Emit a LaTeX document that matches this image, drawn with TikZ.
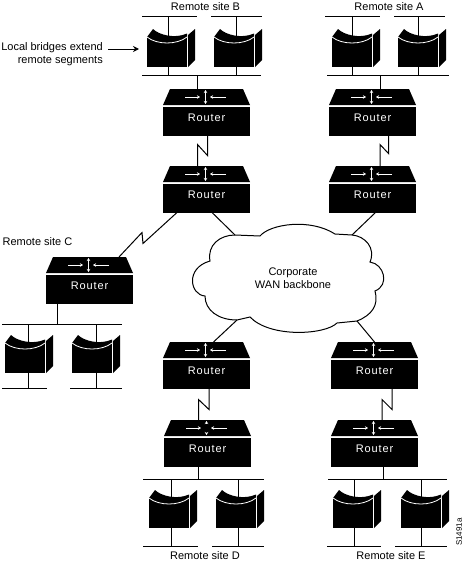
\documentclass[tikz,border=0pt]{standalone}
\usepackage{fontspec}
\setmainfont{Liberation Sans}
\newfontfamily\routerfont[LetterSpace=8]{Liberation Sans}
\usetikzlibrary{positioning,arrows.meta}
\tikzset{
  routerbox/.style={
    fill=black, text=white, font=\fontsize{11}{13}\routerfont,
    minimum width=87pt, minimum height=29pt, inner sep=0pt, outer sep=0pt,
    text height=8pt, text depth=7pt
  },
  bridgebox/.style={
    fill=black, minimum width=40pt, minimum height=30pt,
    inner sep=0pt, outer sep=0pt
  },
  busline/.style={
    fill=black, minimum width=#1, minimum height=1pt,
    inner sep=0pt, outer sep=0pt
  },
  link/.style={draw=black, line width=1pt},
  flowtip/.style={-{Stealth[length=3pt,width=3.5pt]}, draw=white, line width=0.8pt},
  notearrow/.style={-{Stealth[length=6pt,width=6pt]}, draw=black, line width=1pt},
  sitelabel/.style={font=\fontsize{11}{13}\selectfont, inner sep=0pt},
  wanlabel/.style={font=\fontsize{11}{13}\selectfont, align=center, inner sep=0pt}
}
% router: #1 = gap in the middle of the up/down arrow, #2 = name, #3,#4 = top left
\newcommand{\routernode}[4][0]{%
  \begin{scope}[shift={(#3,#4)}]
    \fill (0,16) -- (7,0) -- (80,0) -- (87,16) -- cycle;
    \node[routerbox] (#2) at (43.5,32) {Router};
    \coordinate (#2top) at (43.5,0);
    \draw[flowtip] (22,8) -- (37,8);
    \draw[flowtip] (63,8) -- (47,8);
    \draw[flowtip] (42.5,8-#1) -- (42.5,1);
    \draw[flowtip] (42.5,8+#1) -- (42.5,15);
  \end{scope}}
% bridge: #1 = name, #2,#3 = top left of the front
\newcommand{\bridgenode}[3]{%
  \begin{scope}[shift={(#2,#3)}]
    \fill (0,0) -- (6,-8) .. controls (12,-2) and (28,2) .. (40,-3.5)
      -- (40,1) -- (0,1) -- cycle;
    \node[bridgebox] (#1) at (20,15) {};
    \fill (41,-2) -- (48,-8) -- (48,23) -- (41,30) -- cycle;
    \draw[white, line width=0.8pt] (0,0) .. controls (10,8) and (30,8) .. (40,0);
  \end{scope}}
% stems of a bridge: #1 = bridge, #2 = shift, #3,#4 = upper and lower bus
\newcommand{\bridgestems}[4]{%
  \draw[link] ([xshift=#2pt]#1.north) -- ([xshift=#2pt]#1.north |- #3);
  \draw[link] ([xshift=#2pt]#1.south) -- ([xshift=#2pt]#1.south |- #4);}

\begin{document}
\begin{tikzpicture}[x=1pt, y=-1pt]
\useasboundingbox (0,0) rectangle (464,562);

% remote site B
\node[sitelabel] (siteB) at (205.5,7) {Remote site B};
\node[busline=55pt] (lanBa) at (169.5,16) {};
\node[busline=51pt] (lanBb) at (236.5,16) {};
\node[busline=119pt] (lanB) at (201.5,75) {};
\bridgenode{brBa}{147}{37}
\bridgenode{brBb}{214}{37}
\bridgestems{brBa}{1}{lanBa}{lanB}
\bridgestems{brBb}{2}{lanBb}{lanB}
\routernode{rBa}{163}{89}
\routernode{rBb}{163}{166}

% remote site A
\node[sitelabel] (siteA) at (389,7) {Remote site A};
\node[busline=55pt] (lanAa) at (352.5,16) {};
\node[busline=51pt] (lanAb) at (419.5,16) {};
\node[busline=122pt] (lanA) at (388,75) {};
\bridgenode{brAa}{332}{37}
\bridgenode{brAb}{398}{37}
\bridgestems{brAa}{0.5}{lanAa}{lanA}
\bridgestems{brAb}{0.5}{lanAb}{lanA}
\routernode{rAa}{329}{89}
\routernode{rAb}{329}{166}

% remote site C
\node[sitelabel] (siteC) at (37.5,242) {Remote site C};
\node[busline=120pt] (lanC) at (62,324) {};
\node[busline=45pt] (lanCa) at (24.5,388) {};
\node[busline=52pt] (lanCb) at (96,388) {};
\bridgenode{brCa}{5}{343}
\bridgenode{brCb}{72}{343}
\bridgestems{brCa}{3}{lanC}{lanCa}
\bridgestems{brCb}{4}{lanC}{lanCb}
\routernode{rC}{46}{257}

% remote site D
\node[sitelabel] (siteD) at (205,556) {Remote site D};
\node[busline=121pt] (lanD) at (203.5,479) {};
\node[busline=55pt] (lanDa) at (170.5,546) {};
\node[busline=52pt] (lanDb) at (238,546) {};
\bridgenode{brDa}{149}{498}
\bridgenode{brDb}{216}{498}
\bridgestems{brDa}{2}{lanD}{lanDa}
\bridgestems{brDb}{2}{lanD}{lanDb}
\routernode{rDa}{163}{342}
\routernode[5]{rDb}{164}{420}

% remote site E
\node[sitelabel] (siteE) at (391,556) {Remote site E};
\node[busline=119pt] (lanE) at (387.5,479) {};
\node[busline=54pt] (lanEa) at (354,546) {};
\node[busline=52pt] (lanEb) at (421,546) {};
\bridgenode{brEa}{333}{498}
\bridgenode{brEb}{401}{498}
\bridgestems{brEa}{1}{lanE}{lanEa}
\bridgestems{brEb}{0}{lanE}{lanEb}
\routernode{rEa}{331}{342}
\routernode{rEb}{331}{420}

% cloud
\coordinate (wanNW) at (235,235);
\coordinate (wanNE) at (352,235);
\coordinate (wanSW) at (237,320);
\coordinate (wanSE) at (357,321);
\draw[link] (wanNW) -- (260,236) .. controls (270,224) and (310,218) .. (335,234)
  -- (wanNE) .. controls (365,236) and (376,248) .. (370,262)
  .. controls (384,264) and (390,285) .. (375,291)
  .. controls (379,305) and (372,315) .. (wanSE) -- (337,323)
  .. controls (325,335) and (270,338) .. (250,317) -- (wanSW)
  .. controls (218,320) and (205,310) .. (205,296)
  .. controls (190,295) and (185,268) .. (210,261)
  .. controls (207,245) and (220,235) .. (wanNW);
\node[wanlabel] (wan) at (293,278) {Corporate\\WAN backbone};

% links
\draw[link] ([xshift=-9.5pt]rBatop) -- ([xshift=-9.5pt]rBatop |- lanB);
\draw[link] ([xshift=8pt]rAatop) -- ([xshift=8pt]rAatop |- lanA);
\draw[link] ([xshift=-32.5pt]rC.south) -- ([xshift=-32.5pt]rC.south |- lanC);
\draw[link] ([xshift=-9.5pt]rDb.south) -- ([xshift=-9.5pt]rDb.south |- lanD);
\draw[link] ([xshift=8.5pt]rEb.south) -- ([xshift=8.5pt]rEb.south |- lanE);

\draw[link] ([xshift=1pt]rBa.south) -- ++(0,20) -- ++(-10,-11) -- ([xshift=-9pt]rBbtop);
\draw[link] ([xshift=16pt]rAa.south) -- ++(0,18) -- ++(-8.5,-9) -- ([xshift=7.5pt]rAbtop);
\draw[link] ([xshift=2.5pt]rDa.south) -- ++(0,21) -- ++(-10.5,-10) -- ([xshift=-9pt]rDbtop);
\draw[link] ([xshift=17.5pt]rEa.south) -- ++(0,21) -- ++(-10,-10) -- ([xshift=7.5pt]rEbtop);

\draw[link] ([xshift=-29.5pt]rBb.south) -- ++(-34,31) -- ++(-1,-11) -- ([xshift=29.5pt]rCtop);
\draw[link] ([xshift=5.5pt]rBb.south) -- (wanNW);
\draw[link] ([xshift=3pt]rAb.south) -- (wanNE);
\draw[link] ([xshift=7pt]rDatop) -- (wanSW);
\draw[link] (rEatop) -- (wanSE);

% note and figure number
\node[sitelabel, align=right, inner xsep=5pt, anchor=east] (note) at (108,54.5)
  {Local bridges extend\\remote segments};
\coordinate (notetip) at (139,49);
\draw[notearrow] (note.east |- notetip) -- (notetip);
\node[font=\fontsize{8}{9}\selectfont, rotate=90, inner sep=0pt] (figno) at (459,532) {S1491a};
\end{tikzpicture}
\end{document}
